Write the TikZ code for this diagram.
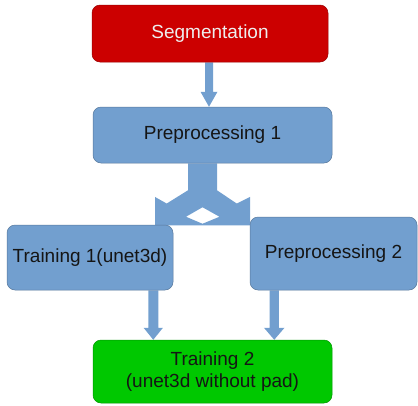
\documentclass[tikz,border=0pt]{standalone}
\usepackage{fontspec}
\setmainfont{Liberation Sans}
\usetikzlibrary{calc,backgrounds}
\definecolor{boxblue}{HTML}{729FCF}
\definecolor{boxred}{HTML}{CC0000}
\definecolor{boxgreen}{HTML}{00C800}
\definecolor{txtlight}{HTML}{EEEEEE}
\definecolor{txtdark}{HTML}{151515}
\newcommand\blkarrow[5]{%
  \fill[boxblue] ($(#1)+(-#3,0)$) -- ($(#2)+(-#3,-#5)$) -- ($(#2)+(-#4,-#5)$) -- (#2)
    -- ($(#2)+(#4,-#5)$) -- ($(#2)+(#3,-#5)$) -- ($(#1)+(#3,0)$) -- cycle;}
\begin{document}
\begin{tikzpicture}[x=1pt,y=-1pt,
  box/.style={draw=#1!75!black, line width=0.5pt, rounded corners=8pt, fill=#1,
    inner sep=0pt, text=txtdark, align=center,
    font=\fontsize{19}{21.5}\selectfont},
  light/.style={text=txtlight}]
\useasboundingbox (0,0) rectangle (418,405);
\node[box=boxred, light, minimum width=236pt, minimum height=57pt] (seg) at (210,33.5) {Segmentation};
\node[box=boxblue, minimum width=239pt, minimum height=56pt] (pre1) at (212.5,135) {Preprocessing 1};
\node[box=boxblue, minimum width=166pt, minimum height=65pt] (tr1) at (90,257.5) {Training 1(unet3d)};
\node[box=boxblue, minimum width=167pt, minimum height=73pt] (pre2) at (333.5,253.5) {Preprocessing 2};
\node[box=boxgreen, minimum width=239pt, minimum height=63pt] (tr2) at (212.5,371.5) {Training 2\\(unet3d without pad)};
\begin{scope}[on background layer]
  % Segmentation -> Preprocessing 1
  \path (seg.south) ++(-1,0) coordinate (a1s);
  \coordinate (a1e) at (a1s |- pre1.north);
  \blkarrow{a1s}{a1e}{4}{8.5}{15}
  % split arrow Preprocessing 1 -> Training 1 / Preprocessing 2
  \path (pre1.south) ++(-10,0) coordinate (sp);
  \fill[boxblue, even odd rule]
    ($(sp)+(-14.5,0)$) -- ($(sp)+(14.5,0)$) -- ($(sp)+(14.5,27)$) -- ($(sp)+(34.2,40.3)$)
    -- ($(sp)+(47.5,33.7)$) -- ($(sp)+(47.5,62)$) -- ($(sp)+(-47.5,62)$) -- ($(sp)+(-47.5,33.7)$)
    -- ($(sp)+(-35.8,40.3)$) -- ($(sp)+(-14.5,27)$) -- cycle
    ($(sp)+(0,44)$) -- ($(sp)+(17,53.5)$) -- ($(sp)+(0,60.5)$) -- ($(sp)+(-16.5,53.5)$) -- cycle;
  % Training 1 -> Training 2
  \path (tr1.south east) ++(-20,0) coordinate (a2s);
  \coordinate (a2e) at (a2s |- tr2.north);
  \blkarrow{a2s}{a2e}{5}{9.7}{12}
  % Preprocessing 2 -> Training 2
  \path (pre2.south west) ++(24.5,0) coordinate (a3s);
  \coordinate (a3e) at (a3s |- tr2.north);
  \blkarrow{a3s}{a3e}{4.7}{10.3}{12}
\end{scope}
\end{tikzpicture}
\end{document}
